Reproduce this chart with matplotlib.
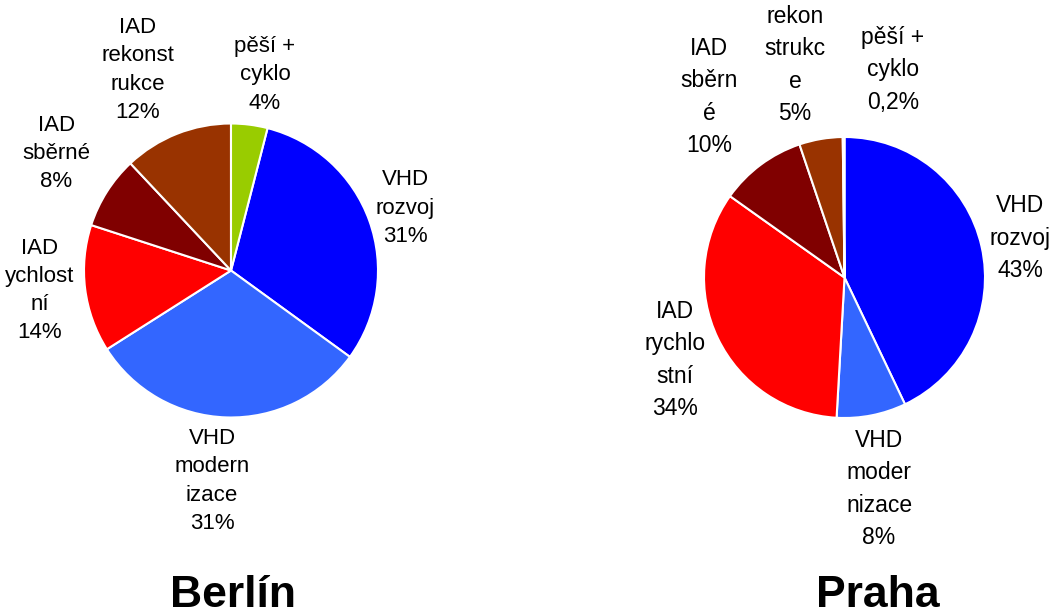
import matplotlib.pyplot as plt

plt.rcParams['font.family'] = ['Liberation Sans', 'DejaVu Sans']

colors = ['#0000FF', '#3366FF', '#FF0000', '#800000', '#993300', '#99CC00']

# Berlín
berlin_vals = [31, 31, 14, 8, 12, 4]
berlin_labels = ['VHD\nrozvoj\n31%', 'VHD\nmodern\nizace\n31%', 'IAD\nychlost\nní\n14%',
                 'IAD\nsběrné\n8%', 'IAD\nrekonst\nrukce\n12%', 'pěší +\ncyklo\n4%']
berlin_lpos = [(1.184, 0.425), (-0.129, -1.432), (-1.299, -0.139),
               (-1.190, 0.793), (-0.633, 1.364), (0.231, 1.330)]

# Praha
praha_vals = [43, 8, 34, 10, 5, 0.2]
praha_labels = ['VHD\nrozvoj\n43%', 'VHD\nmoder\nnizace\n8%', 'IAD\nrychlo\nstní\n34%',
                'IAD\nsběrn\né\n10%', 'rekon\nstrukc\ne\n5%', 'pěší +\ncyklo\n0,2%']
praha_lpos = [(1.249, 0.281), (0.246, -1.505), (-1.206, -0.587),
              (-0.964, 1.285), (-0.352, 1.512), (0.345, 1.477)]

W, H = 1054, 612
fig = plt.figure(figsize=(W / 100, H / 100), dpi=100)


def draw_pie(cx, cy, r, vals, labels, lpos, start, title, tx, ty, fsize, lspace):
    ax = fig.add_axes([(cx - r) / W, (H - cy - r) / H, 2 * r / W, 2 * r / H])
    ax.pie(vals, colors=colors, startangle=start, counterclock=False, radius=1,
           wedgeprops=dict(edgecolor='white', linewidth=1.5))
    ax.set_xlim(-1, 1)
    ax.set_ylim(-1, 1)
    ax.set_aspect('equal')
    ax.axis('off')
    for lab, (x, y) in zip(labels, lpos):
        ax.text(x, y, lab, ha='center', va='center', fontsize=fsize,
                linespacing=lspace, multialignment='center')
    fig.text(tx / W, 1 - ty / H, title, ha='center', va='baseline',
             fontsize=32, fontweight='bold')


# Berlín: last slice (pěší + cyklo) sits just right of 12 o'clock
berlin_start = 90 - 360 * berlin_vals[-1] / sum(berlin_vals)

draw_pie(231, 270.5, 147, berlin_vals, berlin_labels, berlin_lpos, berlin_start,
         'Berlín', 233, 607, 16, 1.44)
draw_pie(844.5, 277.5, 140.5, praha_vals, praha_labels, praha_lpos, 90,
         'Praha', 878, 607, 16.5, 1.53)

fig.savefig('out.png', dpi=100, facecolor='white')
